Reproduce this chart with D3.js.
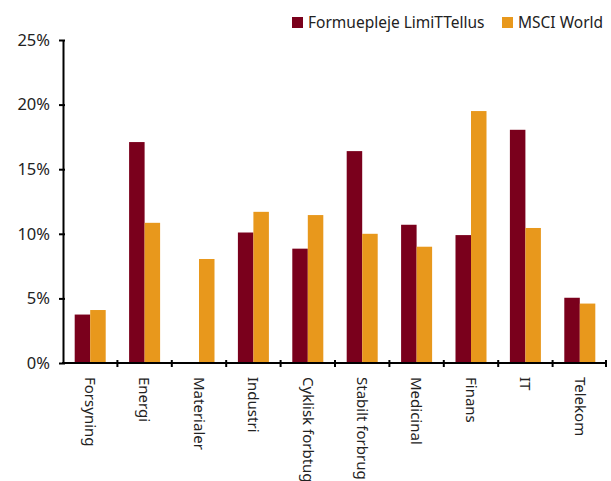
<!DOCTYPE html>
<html lang="da">
<meta charset="utf-8">
<head>
    <script src="https://d3js.org/d3.v7.min.js"></script>
    <style>
        body { margin: 0; background: #fff; }
        text { font-family: "Noto Sans", "DejaVu Sans", sans-serif; fill: #222; }
    </style>
</head>
<body>
<div id="chart"></div>
<script>
// sector names and the two series (share of portfolio, %)
const categories = ["Forsyning", "Energi", "Materialer", "Industri", "Cyklisk forbtug",
    "Stabilt forbrug", "Medicinal", "Finans", "IT", "Telekom"];
const limiTellus = [3.75, 17.1, 0, 10.1, 8.85, 16.4, 10.7, 9.9, 18.05, 5.05];
const msciWorld  = [4.1, 10.85, 8.05, 11.7, 11.45, 10.0, 9.0, 19.5, 10.45, 4.6];
const seriesNames = ["Formuepleje LimiTTellus", "MSCI World"];
const yTicks = [0, 5, 10, 15, 20, 25];

const colors = ["#7a001c", "#e8981c"];

const W = 611, H = 481;
const margin = {top: 40, right: 4, bottom: 118, left: 63};
const width = W - margin.left - margin.right;
const height = H - margin.top - margin.bottom;

const data = categories.map(function(c, i) {
    return {cat: c, values: [limiTellus[i], msciWorld[i]]};
});

const svg = d3.select("#chart")
    .append("svg")
    .attr("width", W)
    .attr("height", H);

const g = svg.append("g")
    .attr("transform", "translate(" + margin.left + "," + margin.top + ")");

// scales
const x0 = d3.scaleBand()
    .domain(categories)
    .range([0, width])
    .paddingInner(0.43)
    .paddingOuter(0.215);
const x1 = d3.scaleBand()
    .domain([0, 1])
    .range([0, x0.bandwidth()]);
const y = d3.scaleLinear()
    .domain([0, 25])
    .range([height, 0]);

// bars
g.selectAll(".grp")
    .data(data)
    .enter().append("g")
    .attr("class", "grp")
    .attr("transform", function(d) { return "translate(" + x0(d.cat) + ",0)"; })
    .selectAll("rect")
    .data(function(d) { return d.values.map(function(v, k) { return {k: k, v: v}; }); })
    .enter().append("rect")
    .attr("x", function(d) { return x1(d.k); })
    .attr("y", function(d) { return y(d.v); })
    .attr("width", x1.bandwidth())
    .attr("height", function(d) { return height - y(d.v); })
    .attr("fill", function(d) { return colors[d.k]; });

// y axis
const yAxis = g.append("g")
    .call(d3.axisLeft(y)
        .tickValues(yTicks)
        .tickSize(4)
        .tickSizeOuter(0)
        .tickFormat(function(d) { return d + "%"; }));
yAxis.select(".domain").attr("stroke", "#000").attr("stroke-width", 2);
yAxis.selectAll(".tick line").attr("stroke", "#000").attr("stroke-width", 2).attr("x2", -4).attr("x1", 2);
yAxis.selectAll(".tick text")
    .attr("x", -13)
    .style("font-size", "16.5px");

// x axis, ticks between the categories
const step = x0.step();
const xAxis = g.append("g")
    .attr("transform", "translate(0," + height + ")");
xAxis.append("line")
    .attr("x1", -1).attr("x2", width)
    .attr("stroke", "#000").attr("stroke-width", 2);
xAxis.selectAll(".sep")
    .data(d3.range(1, categories.length + 1))
    .enter().append("line")
    .attr("class", "sep")
    .attr("x1", function(i) { return Math.min(i * step, width - 1); })
    .attr("x2", function(i) { return Math.min(i * step, width - 1); })
    .attr("y1", -3).attr("y2", 4)
    .attr("stroke", "#000").attr("stroke-width", 2);
xAxis.selectAll(".lbl")
    .data(categories)
    .enter().append("text")
    .attr("class", "lbl")
    .attr("transform", function(d) {
        return "translate(" + (x0(d) + x0.bandwidth() / 2) + ",14) rotate(90)";
    })
    .attr("dy", "0.35em")
    .style("font-size", "15px")
    .text(function(d) { return d; });

// legend
const legend = svg.append("g");
const legX = [292, 502];
seriesNames.forEach(function(name, k) {
    legend.append("rect")
        .attr("x", legX[k]).attr("y", 17)
        .attr("width", 11).attr("height", 11)
        .attr("fill", colors[k]);
    legend.append("text")
        .attr("x", legX[k] + 16).attr("y", 23)
        .attr("dy", "0.35em")
        .style("font-size", "15.5px")
        .text(name);
});
</script>
</body>
</html>
